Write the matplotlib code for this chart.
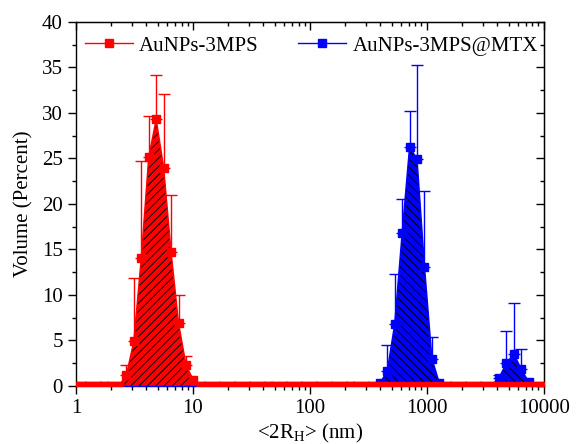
import numpy as np
import matplotlib.pyplot as plt
from matplotlib.ticker import MultipleLocator

plt.rcParams['font.family'] = 'Liberation Serif'
plt.rcParams['font.size'] = 15
plt.rcParams['mathtext.fontset'] = 'custom'
plt.rcParams['mathtext.rm'] = 'Liberation Serif'
plt.rcParams['hatch.linewidth'] = 0.7

# DLS size classes (nm)
size_nm = [0.4, 0.4632, 0.5365, 0.6213, 0.7195, 0.8332, 0.9649, 1.117, 1.294, 1.499,
           1.736, 2.01, 2.328, 2.696, 3.122, 3.615, 4.187, 4.849, 5.615, 6.503,
           7.531, 8.721, 10.1, 11.7, 13.54, 15.69, 18.17, 21.04, 24.36, 28.21,
           32.67, 37.84, 43.82, 50.75, 58.77, 68.06, 78.82, 91.28, 105.7, 122.4,
           141.8, 164.2, 190.1, 220.2, 255.0, 295.3, 342.0, 396.1, 458.7, 531.2,
           615.1, 712.4, 825.0, 955.4, 1106, 1281, 1484, 1718, 1990, 2305,
           2669, 3091, 3580, 4145, 4801, 5560, 6439, 7456, 8635, 10000]

# AuNPs-3MPS
vol_3mps = [0, 0, 0, 0, 0, 0, 0, 0, 0, 0,
            0, 0, 0, 1.2, 4.9, 14.1, 25.2, 29.3, 24.0, 14.7,
            6.9, 2.3, 0.6, 0, 0, 0, 0, 0, 0, 0,
            0, 0, 0, 0, 0, 0, 0, 0, 0, 0,
            0, 0, 0, 0, 0, 0, 0, 0, 0, 0,
            0, 0, 0, 0, 0, 0, 0, 0, 0, 0,
            0, 0, 0, 0, 0, 0, 0, 0, 0, 0]
err_3mps = [0, 0, 0, 0, 0, 0, 0, 0, 0, 0,
            0, 0, 0, 1.1, 6.9, 10.6, 4.5, 4.9, 8.1, 6.3,
            3.1, 1.0, 0, 0, 0, 0, 0, 0, 0, 0,
            0, 0, 0, 0, 0, 0, 0, 0, 0, 0,
            0, 0, 0, 0, 0, 0, 0, 0, 0, 0,
            0, 0, 0, 0, 0, 0, 0, 0, 0, 0,
            0, 0, 0, 0, 0, 0, 0, 0, 0, 0]

# AuNPs-3MPS@MTX
vol_mtx = [0, 0, 0, 0, 0, 0, 0, 0, 0, 0,
           0, 0, 0, 0, 0, 0, 0, 0, 0, 0,
           0, 0, 0, 0, 0, 0, 0, 0, 0, 0,
           0, 0, 0, 0, 0, 0, 0, 0, 0, 0,
           0, 0, 0, 0, 0, 0, 0, 0.3, 1.6, 6.8,
           16.8, 26.3, 24.9, 13.1, 3.0, 0.3, 0, 0, 0, 0,
           0, 0, 0, 0.9, 2.5, 3.5, 1.8, 0.4, 0, 0]
err_mtx = [0, 0, 0, 0, 0, 0, 0, 0, 0, 0,
           0, 0, 0, 0, 0, 0, 0, 0, 0, 0,
           0, 0, 0, 0, 0, 0, 0, 0, 0, 0,
           0, 0, 0, 0, 0, 0, 0, 0, 0, 0,
           0, 0, 0, 0, 0, 0, 0, 0, 2.9, 5.5,
           3.7, 3.9, 10.4, 8.3, 2.4, 0, 0, 0, 0, 0,
           0, 0, 0, 0.3, 3.5, 5.6, 2.3, 0, 0, 0]

xticks = [1, 10, 100, 1000, 10000]
xtick_labels = ['1', '10', '100', '1000', '10000']
yticks = [0, 5, 10, 15, 20, 25, 30, 35, 40]

fig = plt.figure(figsize=(5.76, 4.44), dpi=100)
ax = fig.add_axes([0.132, 0.131, 0.812, 0.8195])

x = np.array(size_nm)
series = [(vol_mtx, err_mtx, 'blue', '\\\\\\\\', 'AuNPs-3MPS@MTX'),
          (vol_3mps, err_3mps, 'red', '////', 'AuNPs-3MPS')]
handles = {}
for i, (v, e, c, h, lab) in enumerate(series):
    v = np.array(v)
    e = np.array(e)
    z = 2 + 4 * i
    ax.fill_between(x, v, 0, facecolor=c, edgecolor='black', hatch=h,
                    linewidth=0, zorder=z)
    m = e > 0
    ax.errorbar(x[m], v[m], yerr=[np.zeros(m.sum()), e[m]], fmt='none',
                ecolor=c, elinewidth=1, capsize=4.5, capthick=1, zorder=z + 1)
    ln, = ax.plot(x, v, '-s', color=c, lw=1, ms=6, zorder=z + 2)
    handles[lab] = ln

ax.set_xscale('log')
ax.set_xlim(1, 10000)
ax.set_ylim(0, 40)
ax.set_xticks(xticks, xtick_labels)
ax.set_yticks(yticks)
ax.yaxis.set_minor_locator(MultipleLocator(2.5))
ax.tick_params(which='both', direction='out', width=1)
ax.tick_params(which='major', length=6)
ax.tick_params(which='minor', length=3)
for s in ax.spines.values():
    s.set_linewidth(1)

secx = ax.secondary_xaxis('top')
secx.tick_params(which='both', direction='in', labeltop=False, width=1)
secx.tick_params(which='major', length=6)
secx.tick_params(which='minor', length=3)
secy = ax.secondary_yaxis('right')
secy.set_yticks(yticks)
secy.yaxis.set_minor_locator(MultipleLocator(2.5))
secy.tick_params(which='both', direction='in', labelright=False, width=1)
secy.tick_params(which='major', length=6)
secy.tick_params(which='minor', length=3)

ax.set_xlabel(r'<2R$_\mathregular{H}$> (nm)', labelpad=3)
ax.set_ylabel('Volume (Percent)', labelpad=6)

ax.legend([handles['AuNPs-3MPS'], handles['AuNPs-3MPS@MTX']],
          ['AuNPs-3MPS', 'AuNPs-3MPS@MTX'], loc='center left',
          bbox_to_anchor=(0.019, 0.934), ncol=2, frameon=False,
          handlelength=2.3, handletextpad=0.3, columnspacing=1.9,
          borderpad=0, borderaxespad=0)

fig.savefig('out.png', dpi=100)
